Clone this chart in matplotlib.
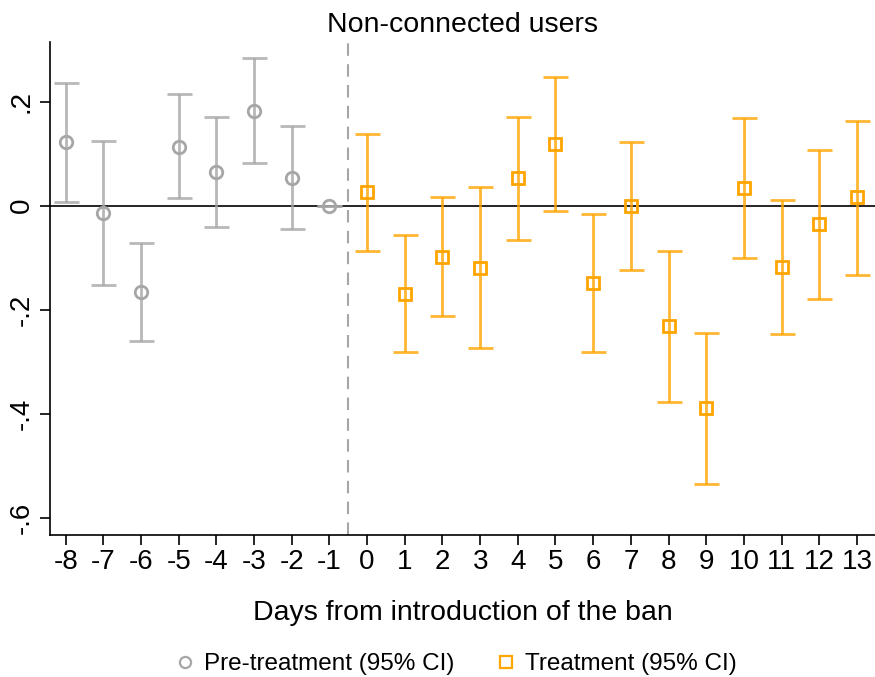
import matplotlib.pyplot as plt
from matplotlib.lines import Line2D

plt.rcParams['font.family'] = ['Liberation Sans', 'DejaVu Sans']

# Event-study estimates, days relative to the ban
pre_days = [-8, -7, -6, -5, -4, -3, -2, -1]
pre_coef = [0.122, -0.014, -0.165, 0.113, 0.064, 0.183, 0.054, 0.0]
pre_lo = [0.007, -0.152, -0.260, 0.014, -0.040, 0.082, -0.045, 0.0]
pre_hi = [0.237, 0.124, -0.071, 0.214, 0.170, 0.285, 0.153, 0.0]

post_days = [0, 1, 2, 3, 4, 5, 6, 7, 8, 9, 10, 11, 12, 13]
post_coef = [0.026, -0.169, -0.098, -0.119, 0.053, 0.119, -0.149, 0.0,
             -0.232, -0.390, 0.034, -0.117, -0.036, 0.016]
post_lo = [-0.087, -0.281, -0.212, -0.273, -0.065, -0.010, -0.282, -0.124,
           -0.378, -0.535, -0.101, -0.247, -0.179, -0.133]
post_hi = [0.138, -0.056, 0.017, 0.036, 0.171, 0.248, -0.015, 0.123,
           -0.088, -0.245, 0.169, 0.012, 0.108, 0.163]

yticks = [-0.6, -0.4, -0.2, 0, 0.2]
ytick_labels = ['-.6', '-.4', '-.2', '0', '.2']

grey = '#a6a6a6'
orange = '#ffa500'

fig = plt.figure(figsize=(8.75, 6.77), dpi=100)
ax = fig.add_axes([0.057, 0.21, 0.943, 0.728])

ax.axhline(0, color='black', lw=1.2, zorder=1)
ax.axvline(-0.5, color=grey, lw=1.5, ls=(0, (6, 4)), zorder=1)

def draw(days, coef, lo, hi, color, marker, ms):
    err = [[c - l for c, l in zip(coef, lo)], [h - c for c, h in zip(coef, hi)]]
    ax.errorbar(days, coef, yerr=err, fmt='none', ecolor=color, elinewidth=2,
                capsize=9, capthick=2, alpha=0.8, zorder=2)
    ax.plot(days, coef, ls='none', marker=marker, ms=ms, mfc='none',
            mec=color, mew=2, zorder=3)

draw(pre_days, pre_coef, pre_lo, pre_hi, grey, 'o', 9)
draw(post_days, post_coef, post_lo, post_hi, orange, 's', 8.5)

ax.set_xlim(-8.42, 13.48)
ax.set_ylim(-0.633, 0.315)
ax.set_xticks(range(-8, 14))
ax.set_xticklabels([str(d) for d in range(-8, 14)])
ax.set_yticks(yticks)
ax.set_yticklabels(ytick_labels, rotation=90, va='center')
ax.tick_params(axis='both', direction='out', length=7, width=1.2, labelsize=20)
ax.tick_params(axis='x', pad=3)
ax.tick_params(axis='y', pad=4)

for s in ['top', 'right']:
    ax.spines[s].set_visible(False)
for s in ['left', 'bottom']:
    ax.spines[s].set_linewidth(1.2)

ax.set_title('Non-connected users', fontsize=20.5, pad=7)
ax.set_xlabel('Days from introduction of the ban', fontsize=20.5, labelpad=18)

handles = [
    Line2D([], [], ls='none', marker='o', ms=8, mfc='none', mec=grey, mew=1.6),
    Line2D([], [], ls='none', marker='s', ms=8, mfc='none', mec=orange, mew=1.6),
]
fig.legend(handles, ['Pre-treatment (95% CI)', 'Treatment (95% CI)'],
           loc='lower center', bbox_to_anchor=(0.521, -0.03), ncol=2,
           frameon=False, fontsize=17.5, handlelength=0.8, handletextpad=0.4,
           columnspacing=1.7)

fig.savefig('out.png', dpi=100)
